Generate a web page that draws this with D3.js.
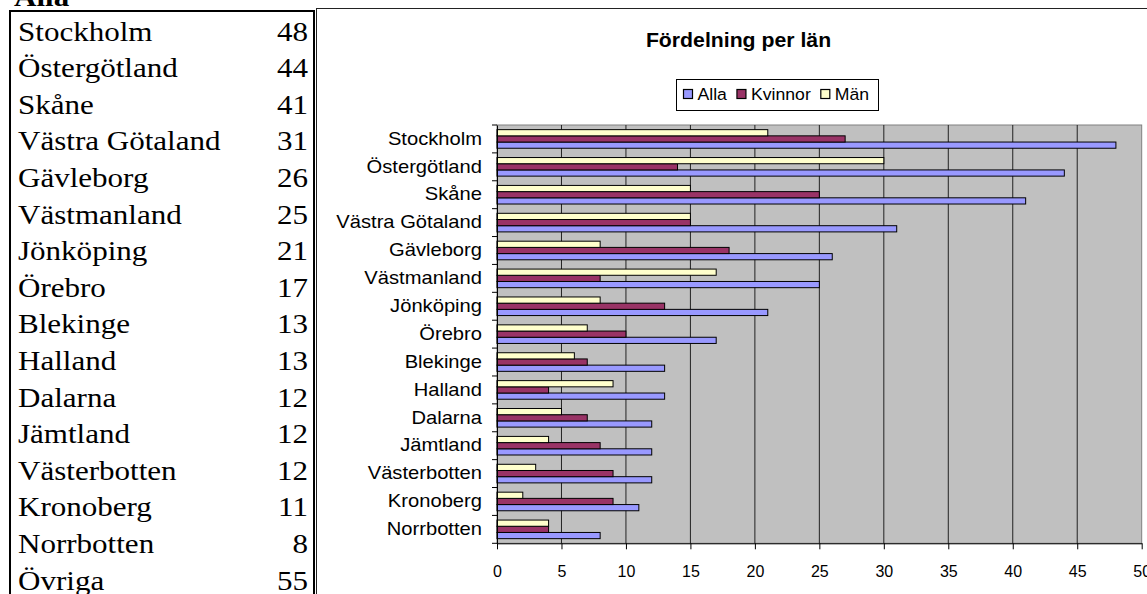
<!DOCTYPE html>
<html lang="sv">
<head>
<meta charset="UTF-8">
<script src="https://d3js.org/d3.v7.min.js"></script>
<title>Fördelning per län</title>
<style>
  body { margin: 0; background: #fff; }
  svg { display: block; }
  .sans { font-family: "Liberation Sans", Arial, sans-serif; fill: #000; }
  .serif { font-family: "Liberation Serif", "Times New Roman", serif; fill: #000; }
</style>
</head>
<body>
<div id="wrapper"></div>
<script>
// data
const tableNames = ["Stockholm", "Östergötland", "Skåne", "Västra Götaland", "Gävleborg", "Västmanland",
  "Jönköping", "Örebro", "Blekinge", "Halland", "Dalarna", "Jämtland", "Västerbotten", "Kronoberg",
  "Norrbotten", "Övriga"];
const tableValues = [48, 44, 41, 31, 26, 25, 21, 17, 13, 13, 12, 12, 12, 11, 8, 55];

const categories = ["Stockholm", "Östergötland", "Skåne", "Västra Götaland", "Gävleborg", "Västmanland",
  "Jönköping", "Örebro", "Blekinge", "Halland", "Dalarna", "Jämtland", "Västerbotten", "Kronoberg",
  "Norrbotten"];
const alla    = [48, 44, 41, 31, 26, 25, 21, 17, 13, 13, 12, 12, 12, 11, 8];
const kvinnor = [27, 14, 25, 15, 18, 8, 13, 10, 7, 4, 7, 8, 9, 9, 4];
const man     = [21, 30, 15, 15, 8, 17, 8, 7, 6, 9, 5, 4, 3, 2, 4];
const seriesNames = ["Alla", "Kvinnor", "Män"];
const xTicks = [0, 5, 10, 15, 20, 25, 30, 35, 40, 45, 50];

const colors = { "Alla": "#9999ff", "Kvinnor": "#993366", "Män": "#ffffcc" };

const width = 1147, height = 594;
const svg = d3.select("#wrapper").append("svg")
  .attr("width", width)
  .attr("height", height);

// text in the picture is drawn a little wider than the fonts are, so stretch it
function stretch(sel, sx) {
  sel.each(function () {
    const t = d3.select(this);
    const x = +t.attr("x") || 0, y = +t.attr("y") || 0;
    t.attr("x", 0).attr("y", 0)
      .attr("transform", "translate(" + x + "," + y + ") scale(" + sx + ",1)");
  });
}

// ---- left table ----
const table = svg.append("g");
table.append("text").attr("class", "serif")
  .attr("x", 14).attr("y", 6)
  .style("font-size", "27px").style("font-weight", "bold")
  .text("Alla")
  .call(stretch, 1.15);

table.append("rect")
  .attr("x", 10).attr("y", 11)
  .attr("width", 304).attr("height", 600)
  .attr("fill", "none").attr("stroke", "#000").attr("stroke-width", 2);

const rowY = d3.scaleLinear().domain([0, 1]).range([40.5, 77.1]);
table.selectAll(".name").data(tableNames).join("text")
  .attr("class", "serif name")
  .attr("x", 18).attr("y", (d, i) => rowY(i))
  .style("font-size", "27px")
  .text(d => d)
  .call(stretch, 1.15);
table.selectAll(".val").data(tableValues).join("text")
  .attr("class", "serif val")
  .attr("x", 308).attr("y", (d, i) => rowY(i))
  .attr("text-anchor", "end")
  .style("font-size", "27px")
  .text(d => d)
  .call(stretch, 1.15);

// ---- chart frame ----
svg.append("rect")
  .attr("x", 316.5).attr("y", 8.5)
  .attr("width", 900).attr("height", 700)
  .attr("fill", "#fff").attr("stroke", "#222").attr("stroke-width", 1);

svg.append("text").attr("class", "sans")
  .attr("x", 738.5).attr("y", 46.5)
  .attr("text-anchor", "middle")
  .style("font-size", "19.5px").style("font-weight", "bold")
  .text("Fördelning per län")
  .call(stretch, 1.09);

// ---- plot ----
const plot = { left: 497, right: 1141.7, top: 125, bottom: 543.3 };

const xScale = d3.scaleLinear().domain([0, 50]).range([plot.left, plot.right]);
const yScale = d3.scaleBand().domain(categories).range([plot.top, plot.bottom]).padding(0);
// Excel draws the series reversed inside each category
const sScale = d3.scaleBand().domain(["Män", "Kvinnor", "Alla"])
  .range([0, yScale.bandwidth()]).paddingInner(0).paddingOuter(0.75);

svg.append("rect")
  .attr("x", plot.left).attr("y", plot.top)
  .attr("width", plot.right - plot.left).attr("height", plot.bottom - plot.top)
  .attr("fill", "#c0c0c0").attr("stroke", "#808080").attr("stroke-width", 1);

svg.append("g").selectAll("line").data(xTicks.slice(1, -1)).join("line")
  .attr("x1", d => xScale(d)).attr("x2", d => xScale(d))
  .attr("y1", plot.top).attr("y2", plot.bottom)
  .attr("stroke", "#222").attr("stroke-width", 1);

const rows = categories.map((c, i) => ({ cat: c, Alla: alla[i], Kvinnor: kvinnor[i], "Män": man[i] }));

const groups = svg.append("g").selectAll("g").data(rows).join("g")
  .attr("transform", d => "translate(0," + yScale(d.cat) + ")");
groups.selectAll("rect")
  .data(d => seriesNames.map(s => ({ s: s, v: d[s] })))
  .join("rect")
  .attr("x", xScale(0))
  .attr("y", d => sScale(d.s))
  .attr("width", d => xScale(d.v) - xScale(0))
  .attr("height", sScale.bandwidth())
  .attr("fill", d => colors[d.s])
  .attr("stroke", "#000").attr("stroke-width", 1);

// y axis
const yAxis = svg.append("g")
  .attr("transform", "translate(" + plot.left + ",0)")
  .call(d3.axisLeft(yScale).tickSize(0).tickSizeOuter(0).tickPadding(15));
yAxis.select(".domain").attr("stroke", "#000");
yAxis.selectAll("text")
  .style("font-size", "18px")
  .style("font-family", "'Liberation Sans', Arial, sans-serif")
  .attr("fill", "#000")
  .attr("transform", "scale(1.12,1)")
  .attr("x", -15 / 1.12);
// ticks between the categories
yAxis.selectAll(".sep").data(categories.concat(["_end"])).join("line")
  .attr("class", "sep")
  .attr("x1", -5).attr("x2", 0)
  .attr("y1", d => d === "_end" ? plot.bottom : yScale(d))
  .attr("y2", d => d === "_end" ? plot.bottom : yScale(d))
  .attr("stroke", "#000");

// x axis
const xAxis = svg.append("g")
  .attr("transform", "translate(0," + plot.bottom + ")")
  .call(d3.axisBottom(xScale).tickValues(xTicks).tickSize(6).tickSizeOuter(0).tickPadding(16));
xAxis.select(".domain").attr("stroke", "#000");
xAxis.selectAll("text")
  .style("font-size", "16px")
  .style("font-family", "'Liberation Sans', Arial, sans-serif")
  .attr("fill", "#000");

// legend
const legend = svg.append("g");
legend.append("rect")
  .attr("x", 676.5).attr("y", 79.5)
  .attr("width", 202).attr("height", 31)
  .attr("fill", "#fff").attr("stroke", "#000").attr("stroke-width", 1);

let lx = 683.5;
seriesNames.forEach(s => {
  legend.append("rect")
    .attr("x", lx).attr("y", 89.5)
    .attr("width", 9).attr("height", 9)
    .attr("fill", colors[s]).attr("stroke", "#000").attr("stroke-width", 1.2);
  const t = legend.append("text").attr("class", "sans")
    .attr("x", lx + 14).attr("y", 99.5)
    .style("font-size", "16.5px")
    .text(s);
  const w = t.node().getComputedTextLength() * 1.07;
  t.call(stretch, 1.07);
  lx += 14 + w + 10;
});
</script>
</body>
</html>
